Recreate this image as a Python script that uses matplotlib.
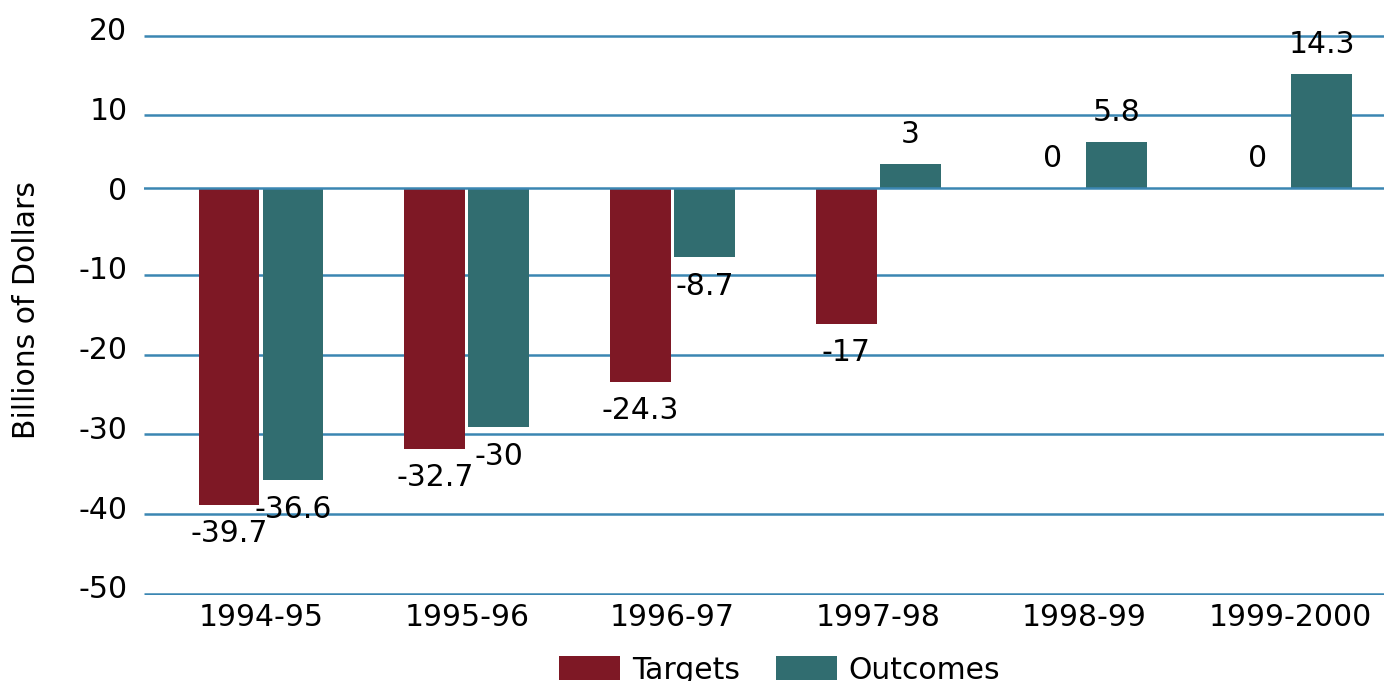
import numpy as np
import matplotlib.pyplot as plt
from matplotlib.transforms import ScaledTranslation

years = ['1994-95', '1995-96', '1996-97', '1997-98', '1998-99', '1999-2000']
targets = [-39.7, -32.7, -24.3, -17, 0, 0]
outcomes = [-36.6, -30, -8.7, 3, 5.8, 14.3]
yticks = [20, 10, 0, -10, -20, -30, -40, -50]

red = '#7e1825'
teal = '#316d70'
grid_col = '#3b86b2'
fs = 21.5

fig = plt.figure(figsize=(13.84, 6.81), dpi=100)
ax = fig.add_axes([144 / 1384, 1 - 595 / 681, 1 - 144 / 1384, (595 - 28.5) / 681])

x = np.arange(len(years))
w = 0.296
off = 0.1555

# grid lines sit a few pixels below their labels in the original
shift = ScaledTranslation(0, -0.07, fig.dpi_scale_trans)
gy = [v for v in yticks if v != 0]
ax.hlines(gy, 0, 1, transform=ax.get_yaxis_transform() + shift,
          colors=grid_col, lw=1.8, zorder=1)
ax.axhline(0, color=grid_col, lw=1.8, zorder=3)

b1 = ax.bar(x - off, targets, w, color=red, label='Targets', zorder=2)
b2 = ax.bar(x + off, outcomes, w, color=teal, label='Outcomes', zorder=2)

for bars, vals in [(b1, targets), (b2, outcomes)]:
    for b, v in zip(bars, vals):
        dy = 21 if v >= 0 else -21
        ax.annotate(f'{v:g}', (b.get_x() + b.get_width() / 2, v),
                    xytext=(0, dy), textcoords='offset points',
                    ha='center', va='center', fontsize=fs)

ax.set_xlim(-0.5685, 5.457)
ax.set_ylim(-51.03, 20)
ax.set_xticks(x)
ax.set_xticklabels(years, fontsize=fs)
ax.set_yticks(yticks)
ax.set_yticklabels([str(v) for v in yticks], fontsize=fs)
ax.tick_params(axis='both', length=0)
ax.tick_params(axis='y', pad=12)
ax.tick_params(axis='x', pad=6)
for s in ax.spines.values():
    s.set_visible(False)

ax.set_ylabel('Billions of Dollars', fontsize=fs, va='center')
ax.yaxis.set_label_coords((27 - 144) / 1240, 0.503)

fig.legend(handles=[b1, b2], loc='upper center', bbox_to_anchor=(0.5632, 0.037),
           ncol=2, frameon=False, fontsize=fs, borderpad=0, borderaxespad=0,
           handlelength=2.05, handleheight=0.86, handletextpad=0.38,
           columnspacing=1.2)

fig.savefig('out.png', dpi=100)
